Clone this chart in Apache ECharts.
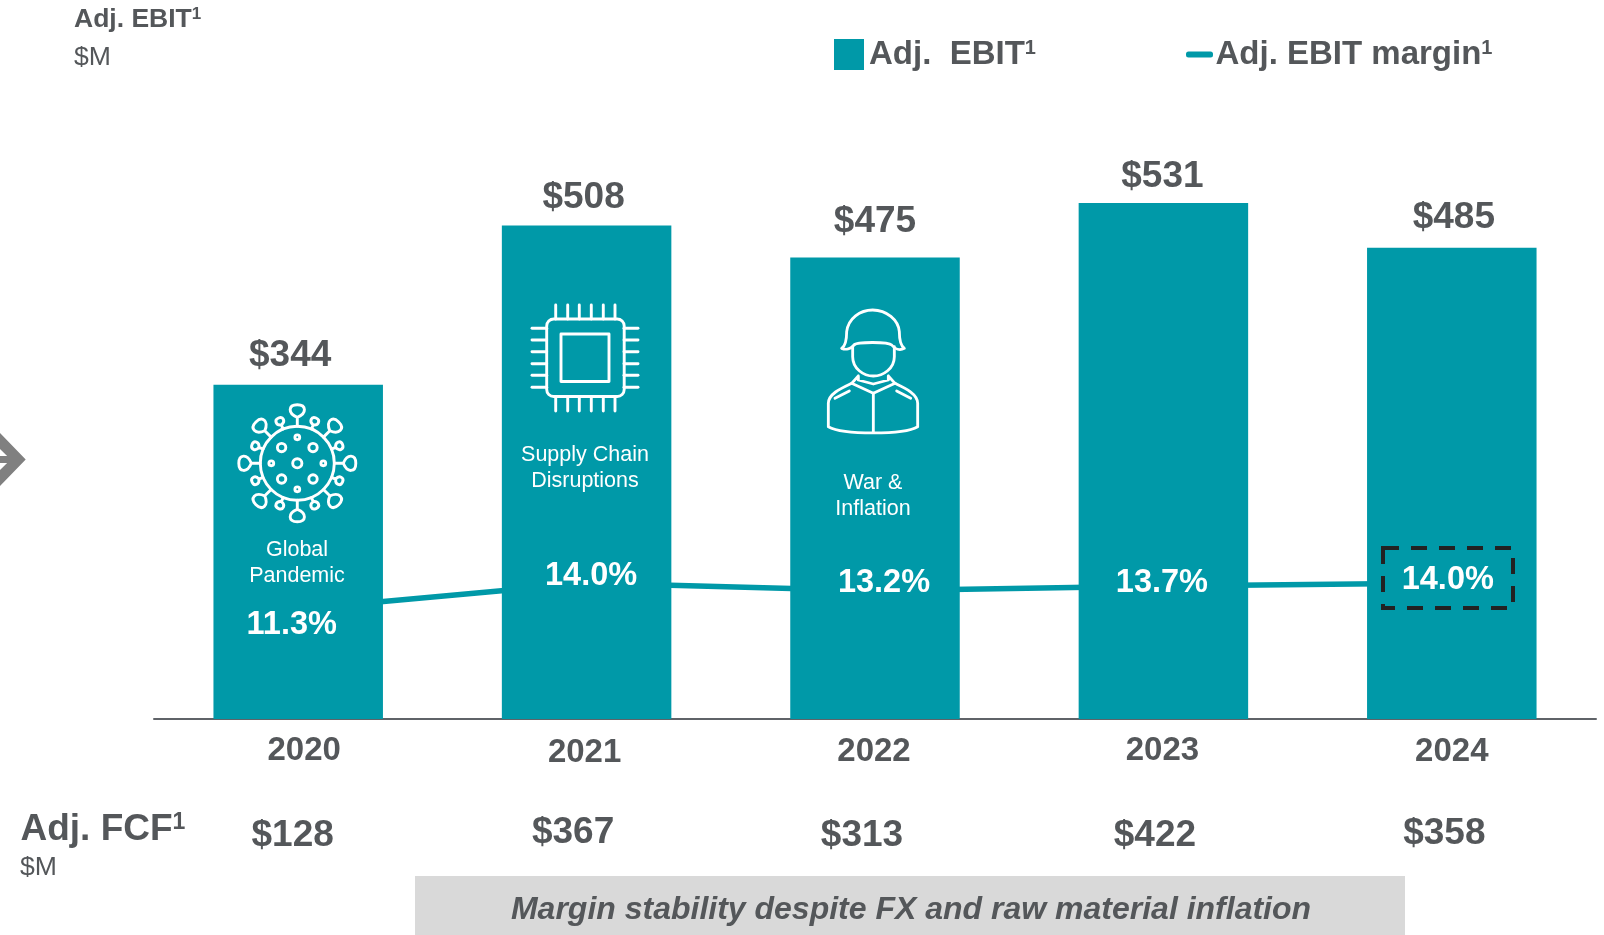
<!DOCTYPE html>
<html><head><meta charset="utf-8">
<style>html,body{margin:0;padding:0;background:#fff}#c{width:1604px;height:935px}</style>
<script src="https://cdn.jsdelivr.net/npm/echarts@6/dist/echarts.min.js"></script>
</head><body><div id="c"></div>
<script>
// ---- data ----
const categories = ['2020','2021','2022','2023','2024'];
const ebitValues = [344,508,475,531,485];
const marginValues = [11.3,14.0,13.2,13.7,14.0];
const fcfValues = [128,367,313,422,358];
const eventNotes = ['Global\nPandemic','Supply Chain\nDisruptions','War &\nInflation'];
const footerNote = 'Margin stability despite FX and raw material inflation';

// ---- hand placement of the labels, as in the slide ----
const ebitLabelOffset = [[-8,-10],[-3,-9],[0,-17],[-1,-8],[2,-11]];
const marginLabelOffset = [[-6.5,16],[4.5,-7],[9,-8],[-1.5,-3],[-4,-3]];
const yearShift = [6,-2,-1,-1,0];
const yearDrop = [0,2,1,0,1];
const fcfShift = [-5.5,-13.5,-13,-8.5,-7.5];
const fcfDrop = [6,3,6,6,4];
const noteCenters = [[297,563],[585,468],[873,496]];

const GREY='#54575a', TEAL='#0099a8', FONT='"Liberation Sans",Arial,sans-serif';
const Z=100, W={stroke:'#fff',fill:'none',lineWidth:2.9,lineCap:'round',lineJoin:'round'};
const pad=(shift,drop)=>[drop,shift<0?-2*shift:0,0,shift>0?2*shift:0];

let pathCount=0;
function pathEl(d,style,extra){
  const name='iconPath'+(pathCount++);
  echarts.graphic.registerShape(name,echarts.graphic.extendPath(d,{}));
  return Object.assign({type:name,z:Z,silent:true,style:style},extra||{});
}
function txt(text,x,y,size,weight,color,opts){
  const o=opts||{};
  const style={text:text,fill:color,
    font:(weight==='italic'?'italic bold ':weight+' ')+size+'px '+FONT,
    align:o.align||'left',verticalAlign:'middle',lineHeight:o.lh};
  if(o.sup) style.rich={s:{fontSize:o.sup,fontWeight:'bold',fontFamily:FONT,fill:color,verticalAlign:'top',lineHeight:size*1.0}};
  return {type:'text',z:Z,silent:true,x:x,y:y,style:style};
}
function seg(x1,y1,x2,y2){return {type:'line',z:Z,silent:true,shape:{x1,y1,x2,y2},style:W};}

function virus(cx,cy){
  const ch=[];
  ch.push({type:'circle',z:Z,shape:{cx:0,cy:0,r:37},style:W});
  ch.push({type:'circle',z:Z,shape:{cx:0,cy:0,r:4.6},style:W});
  [[-15.7,-15.7],[15.7,-15.7],[-15.7,15.7],[15.7,15.7]].forEach(p=>ch.push({type:'circle',z:Z,shape:{cx:p[0],cy:p[1],r:4.2},style:W}));
  [[0,-26],[0,26],[-26,0],[26,0]].forEach(p=>ch.push({type:'circle',z:Z,shape:{cx:p[0],cy:p[1],r:2.4},style:W}));
  for(let k=0;k<8;k++){
    ch.push(pathEl('M0,-37 L0,-46 C-10,-50 -9,-58.5 0,-58.5 C9,-58.5 10,-50 0,-46',W,{rotation:-k*Math.PI/4}));
    ch.push(pathEl('M0,-37 L0,-41.5 C-5.5,-43 -5,-49 0,-49 C5,-49 5.5,-43 0,-41.5',W,{rotation:-(k+0.5)*Math.PI/4}));
  }
  return {type:'group',x:cx,y:cy,silent:true,children:ch};
}
function chip(){
  const ch=[{type:'rect',z:Z,shape:{x:546.7,y:319,width:77.5,height:77.5,r:7},style:W},
            {type:'rect',z:Z,shape:{x:561,y:334,width:48,height:47.5},style:W}];
  [555.7,567.7,579.3,591.3,603.3,615].forEach(x=>{ch.push(seg(x,305,x,319));ch.push(seg(x,396.5,x,411));});
  [328.3,340,351.7,363.7,375.3,387.3].forEach(y=>{ch.push(seg(532,y,546.7,y));ch.push(seg(624,y,638,y));});
  return {type:'group',silent:true,children:ch};
}
function soldier(){
  const S=Object.assign({},W,{lineWidth:8.5});
  const paths=['M185,175 C200,165 200,140 200,125 C205,85 240,60 278,60 C320,60 355,90 358,125 C358,145 360,165 373,175 C360,182 345,178 335,165 C325,155 230,155 222,165 C212,178 197,180 185,175 Z',
   'M218,170 L218,200 C218,235 250,258 280,258 C310,258 343,235 343,200 L343,170',
   'M235,258 L215,280 L280,310 L345,280 L325,258 M235,258 L235,270 L280,282 L325,270 L325,258',
   'M215,280 C190,292 145,310 145,340 L145,410 C190,435 370,435 413,410 L413,340 C413,310 370,292 345,280',
   'M280,310 L280,428','M165,325 L208,303','M350,303 L392,325'];
  return {type:'group',x:780,y:290,scaleX:1/3,scaleY:1/3,silent:true,
    children:paths.map(p=>pathEl(p,S))};
}

const graphics=[
  txt('Adj. EBIT{s|1}',74,19.5,26.5,'bold',GREY,{sup:17}),
  txt('$M',74,58,26.6,'normal',GREY),
  txt('Adj. FCF{s|1}',20.5,830,37,'bold',GREY,{sup:23}),
  txt('$M',20,868,26.6,'normal',GREY),
  {type:'rect',z:50,silent:true,shape:{x:415,y:876,width:990,height:59},style:{fill:'#d9d9d9'}},
  txt(footerNote,911,910,32,'italic',GREY,{align:'center'}),
  {type:'rect',z:Z,silent:true,shape:{x:1383,y:548,width:130,height:60},
    style:{fill:'none',stroke:'#222',lineWidth:4,lineDash:[16,12]}},
  {type:'polygon',z:Z,silent:true,shape:{points:[[0,433],[25.7,459.5],[0,486],[0,470],[10.7,459.5],[0,449]]},style:{fill:'#808080'}},
  {type:'rect',z:Z,silent:true,shape:{x:0,y:456,width:13,height:7},style:{fill:'#808080'}},
  virus(297.3,463.3), chip(), soldier()
];
eventNotes.forEach((n,i)=>graphics.push(txt(n,noteCenters[i][0],noteCenters[i][1],21.5,'normal','#fff',{align:'center',lh:25.5})));

const supRich=size=>({s:{fontSize:size,fontWeight:'bold',fontFamily:FONT,color:GREY,verticalAlign:'top',lineHeight:size*1.6}});
const chart=echarts.init(document.getElementById('c'),null,{renderer:'canvas'});
chart.setOption({
  animation:false,
  backgroundColor:'#fff',
  textStyle:{fontFamily:FONT},
  grid:{left:154,right:8,top:136,bottom:216,containLabel:false},
  legend:[
    {data:['Adj. EBIT'],left:834,top:38,padding:0,itemWidth:30,itemHeight:31,icon:'rect',itemGap:0,
     selectedMode:false,formatter:()=>'Adj.  EBIT{s|1}',textStyle:{color:GREY,fontSize:33,fontWeight:'bold',fontFamily:FONT,rich:supRich(20)}},
    {data:['Adj. EBIT margin'],left:1186,top:38,padding:0,itemWidth:22,itemHeight:1,icon:'rect',
     itemStyle:{color:TEAL,borderColor:TEAL,borderWidth:5,borderJoin:'round'},
     selectedMode:false,formatter:()=>'Adj. EBIT margin{s|1}',textStyle:{color:GREY,fontSize:33,fontWeight:'bold',fontFamily:FONT,rich:supRich(20)}}
  ],
  xAxis:[
    {type:'category',data:categories.map((c,i)=>({value:c,textStyle:{padding:pad(yearShift[i],yearDrop[i])}})),
     axisTick:{show:false},axisLine:{lineStyle:{color:'#5f6368',width:2}},
     axisLabel:{color:GREY,fontSize:33,fontWeight:'bold',fontFamily:FONT,margin:15,interval:0}},
    {type:'category',position:'bottom',offset:92,data:fcfValues.map((v,i)=>({value:'$'+v,textStyle:{padding:pad(fcfShift[i],fcfDrop[i])}})),
     axisTick:{show:false},axisLine:{show:false},
     axisLabel:{color:GREY,fontSize:37,fontWeight:'bold',fontFamily:FONT,margin:0,interval:0}}
  ],
  yAxis:[{type:'value',min:0,max:600,show:false},{type:'value',min:0,max:60,show:false}],
  series:[
    {name:'Adj. EBIT margin',type:'line',z:1,yAxisIndex:1,data:marginValues,symbol:'none',
     itemStyle:{color:TEAL},lineStyle:{color:TEAL,width:5.5}},
    {name:'Adj. EBIT',type:'bar',z:2,barWidth:169.5,itemStyle:{color:TEAL},
     data:ebitValues.map((v,i)=>({value:v,label:{offset:ebitLabelOffset[i]}})),
     label:{show:true,position:'top',distance:0,formatter:'${c}',color:GREY,fontSize:37,fontWeight:'bold',fontFamily:FONT}},
    {name:'margin labels',type:'line',z:60,yAxisIndex:1,symbol:'circle',symbolSize:1,showSymbol:true,
     lineStyle:{width:0,opacity:0},itemStyle:{color:TEAL},
     data:marginValues.map((v,i)=>({value:v,label:{offset:marginLabelOffset[i]}})),
     label:{show:true,position:'inside',formatter:p=>p.value.toFixed(1)+'%',color:'#fff',fontSize:32.5,fontWeight:'bold',fontFamily:FONT}}
  ],
  graphic:{elements:graphics}
});
</script></body></html>
